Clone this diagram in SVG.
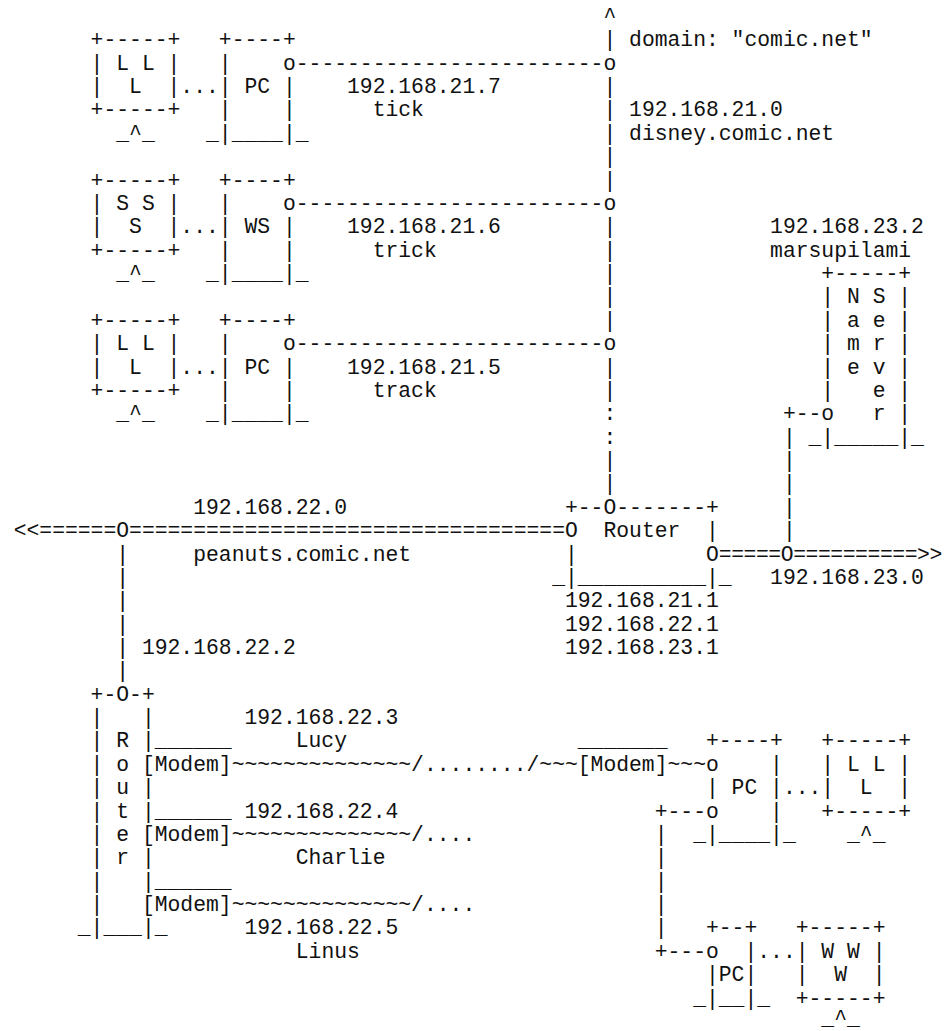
<svg xmlns="http://www.w3.org/2000/svg" width="944" height="1031" viewBox="0 0 944 1031" xml:space="preserve">
<style>
text { font-family: "Liberation Mono", "Courier New", monospace; font-size: 21.36px; fill: #111; white-space: pre; }
</style>
<rect width="944" height="1031" fill="#fff"/>
<g id="connectors">
<text x="603.42" y="23">^</text>
<text x="603.42" y="46.37">|</text>
<text x="603.42" y="93.11">|</text>
<text x="603.42" y="116.48">|</text>
<text x="603.42" y="139.85">|</text>
<text x="603.42" y="163.22">|</text>
<text x="603.42" y="186.59">|</text>
<text x="603.42" y="233.33">|</text>
<text x="603.42" y="256.7">|</text>
<text x="603.42" y="280.07">|</text>
<text x="603.42" y="303.44">|</text>
<text x="603.42" y="326.81">|</text>
<text x="603.42" y="373.55">|</text>
<text x="603.42" y="396.92">|</text>
<text x="603.42" y="420.29">:</text>
<text x="603.42" y="443.66">:</text>
<text x="603.42" y="467.03">|</text>
<text x="603.42" y="490.4">|</text>
<text x="295.74" y="69.74" textLength="320.5">------------------------o</text>
<text x="295.74" y="209.96" textLength="320.5">------------------------o</text>
<text x="295.74" y="350.18" textLength="320.5">------------------------o</text>
<text x="180.36" y="93.11" textLength="38.46">...</text>
<text x="180.36" y="233.33" textLength="38.46">...</text>
<text x="180.36" y="373.55" textLength="38.46">...</text>
<text x="782.9" y="420.29" textLength="38.46">+--</text>
<text x="782.9" y="443.66">|</text>
<text x="782.9" y="467.03">|</text>
<text x="782.9" y="490.4">|</text>
<text x="782.9" y="513.77">|</text>
<text x="782.9" y="537.14">|</text>
<text x="718.8" y="560.51" textLength="223.5">=====O==========&gt;&gt;</text>
<text x="13.7" y="537.14" textLength="551.26">&lt;&lt;======O==================================</text>
<text x="116.26" y="560.51">|</text>
<text x="116.26" y="583.88">|</text>
<text x="116.26" y="607.25">|</text>
<text x="116.26" y="630.62">|</text>
<text x="116.26" y="653.99">|</text>
<text x="116.26" y="677.36">|</text>
<text x="231.64" y="770.84" textLength="346.14">~~~~~~~~~~~~~~/......../~~~</text>
<text x="667.52" y="770.84" textLength="38.46">~~~</text>
<text x="231.64" y="840.95" textLength="243.58">~~~~~~~~~~~~~~/....</text>
<text x="231.64" y="911.06" textLength="243.58">~~~~~~~~~~~~~~/....</text>
<text x="782.9" y="794.21" textLength="38.46">...</text>
<text x="654.7" y="817.58" textLength="51.28">+---</text>
<text x="654.7" y="840.95">|</text>
<text x="654.7" y="864.32">|</text>
<text x="654.7" y="887.69">|</text>
<text x="654.7" y="911.06">|</text>
<text x="654.7" y="934.43">|</text>
<text x="654.7" y="957.8" textLength="51.28">+---</text>
<text x="757.26" y="957.8" textLength="38.46">...</text>
</g>
<g id="host-tick">
<text x="90.62" y="46.37" textLength="89.74">+-----+</text>
<text x="218.82" y="46.37" textLength="76.92">+----+</text>
<text x="90.62" y="69.74" textLength="89.74">| L L |</text>
<text x="218.82" y="69.74">|</text>
<text x="282.92" y="69.74">o</text>
<text x="90.62" y="93.11" textLength="89.74">|  L  |</text>
<text x="218.82" y="93.11" textLength="76.92">| PC |</text>
<text x="90.62" y="116.48" textLength="89.74">+-----+</text>
<text x="218.82" y="116.48" textLength="76.92">|    |</text>
<text x="116.26" y="139.85" textLength="38.46">_^_</text>
<text x="206" y="139.85" textLength="102.56">_|____|_</text>
<text x="347.02" y="93.11" textLength="153.84">192.168.21.7</text>
<text x="372.66" y="116.48" textLength="51.28">tick</text>
</g>
<g id="host-trick">
<text x="90.62" y="186.59" textLength="89.74">+-----+</text>
<text x="218.82" y="186.59" textLength="76.92">+----+</text>
<text x="90.62" y="209.96" textLength="89.74">| S S |</text>
<text x="218.82" y="209.96">|</text>
<text x="282.92" y="209.96">o</text>
<text x="90.62" y="233.33" textLength="89.74">|  S  |</text>
<text x="218.82" y="233.33" textLength="76.92">| WS |</text>
<text x="90.62" y="256.7" textLength="89.74">+-----+</text>
<text x="218.82" y="256.7" textLength="76.92">|    |</text>
<text x="116.26" y="280.07" textLength="38.46">_^_</text>
<text x="206" y="280.07" textLength="102.56">_|____|_</text>
<text x="347.02" y="233.33" textLength="153.84">192.168.21.6</text>
<text x="372.66" y="256.7" textLength="64.1">trick</text>
</g>
<g id="host-track">
<text x="90.62" y="326.81" textLength="89.74">+-----+</text>
<text x="218.82" y="326.81" textLength="76.92">+----+</text>
<text x="90.62" y="350.18" textLength="89.74">| L L |</text>
<text x="218.82" y="350.18">|</text>
<text x="282.92" y="350.18">o</text>
<text x="90.62" y="373.55" textLength="89.74">|  L  |</text>
<text x="218.82" y="373.55" textLength="76.92">| PC |</text>
<text x="90.62" y="396.92" textLength="89.74">+-----+</text>
<text x="218.82" y="396.92" textLength="76.92">|    |</text>
<text x="116.26" y="420.29" textLength="38.46">_^_</text>
<text x="206" y="420.29" textLength="102.56">_|____|_</text>
<text x="347.02" y="373.55" textLength="153.84">192.168.21.5</text>
<text x="372.66" y="396.92" textLength="64.1">track</text>
</g>
<g id="net-disney">
<text x="629.06" y="46.37" textLength="243.58">domain: "comic.net"</text>
<text x="629.06" y="116.48" textLength="153.84">192.168.21.0</text>
<text x="629.06" y="139.85" textLength="205.12">disney.comic.net</text>
</g>
<g id="ns-marsupilami">
<text x="770.08" y="233.33" textLength="153.84">192.168.23.2</text>
<text x="770.08" y="256.7" textLength="141.02">marsupilami</text>
<text x="821.36" y="280.07" textLength="89.74">+-----+</text>
<text x="821.36" y="303.44" textLength="89.74">| N S |</text>
<text x="821.36" y="326.81" textLength="89.74">| a e |</text>
<text x="821.36" y="350.18" textLength="89.74">| m r |</text>
<text x="821.36" y="373.55" textLength="89.74">| e v |</text>
<text x="821.36" y="396.92" textLength="89.74">|   e |</text>
<text x="821.36" y="420.29" textLength="89.74">o   r |</text>
<text x="808.54" y="443.66" textLength="115.38">_|_____|_</text>
</g>
<g id="router-main">
<text x="564.96" y="513.77" textLength="153.84">+--O-------+</text>
<text x="564.96" y="537.14" textLength="153.84">O  Router  |</text>
<text x="564.96" y="560.51">|</text>
<text x="705.98" y="560.51">O</text>
<text x="552.14" y="583.88" textLength="179.48">_|__________|_</text>
<text x="564.96" y="607.25" textLength="153.84">192.168.21.1</text>
<text x="564.96" y="630.62" textLength="153.84">192.168.22.1</text>
<text x="564.96" y="653.99" textLength="153.84">192.168.23.1</text>
</g>
<g id="net-peanuts">
<text x="193.18" y="513.77" textLength="153.84">192.168.22.0</text>
<text x="193.18" y="560.51" textLength="217.94">peanuts.comic.net</text>
</g>
<g id="net-23">
<text x="770.08" y="583.88" textLength="153.84">192.168.23.0</text>
</g>
<g id="router-dialup">
<text x="141.9" y="653.99" textLength="153.84">192.168.22.2</text>
<text x="90.62" y="700.73" textLength="64.1">+-O-+</text>
<text x="90.62" y="724.1" textLength="64.1">|   |</text>
<text x="90.62" y="747.47" textLength="64.1">| R |</text>
<text x="90.62" y="770.84" textLength="38.46">| o</text>
<text x="90.62" y="794.21" textLength="64.1">| u |</text>
<text x="90.62" y="817.58" textLength="64.1">| t |</text>
<text x="90.62" y="840.95" textLength="38.46">| e</text>
<text x="90.62" y="864.32" textLength="64.1">| r |</text>
<text x="90.62" y="887.69" textLength="64.1">|   |</text>
<text x="90.62" y="911.06">|</text>
<text x="77.8" y="934.43" textLength="89.74">_|___|_</text>
</g>
<g id="modem-lucy">
<text x="154.72" y="747.47" textLength="76.92">______</text>
<text x="141.9" y="770.84" textLength="89.74">[Modem]</text>
<text x="244.46" y="724.1" textLength="153.84">192.168.22.3</text>
<text x="295.74" y="747.47" textLength="51.28">Lucy</text>
</g>
<g id="modem-charlie">
<text x="154.72" y="817.58" textLength="76.92">______</text>
<text x="141.9" y="840.95" textLength="89.74">[Modem]</text>
<text x="244.46" y="817.58" textLength="153.84">192.168.22.4</text>
<text x="295.74" y="864.32" textLength="89.74">Charlie</text>
</g>
<g id="modem-linus">
<text x="154.72" y="887.69" textLength="76.92">______</text>
<text x="141.9" y="911.06" textLength="89.74">[Modem]</text>
<text x="244.46" y="934.43" textLength="153.84">192.168.22.5</text>
<text x="295.74" y="957.8" textLength="64.1">Linus</text>
</g>
<g id="modem-remote">
<text x="577.78" y="747.47" textLength="89.74">_______</text>
<text x="577.78" y="770.84" textLength="89.74">[Modem]</text>
</g>
<g id="pc-gateway">
<text x="705.98" y="747.47" textLength="76.92">+----+</text>
<text x="705.98" y="770.84" textLength="76.92">o    |</text>
<text x="705.98" y="794.21" textLength="76.92">| PC |</text>
<text x="705.98" y="817.58" textLength="76.92">o    |</text>
<text x="693.16" y="840.95" textLength="102.56">_|____|_</text>
</g>
<g id="monitor-lll">
<text x="821.36" y="747.47" textLength="89.74">+-----+</text>
<text x="821.36" y="770.84" textLength="89.74">| L L |</text>
<text x="821.36" y="794.21" textLength="89.74">|  L  |</text>
<text x="821.36" y="817.58" textLength="89.74">+-----+</text>
<text x="847" y="840.95" textLength="38.46">_^_</text>
</g>
<g id="pc-small">
<text x="705.98" y="934.43" textLength="51.28">+--+</text>
<text x="705.98" y="957.8" textLength="51.28">o  |</text>
<text x="705.98" y="981.17" textLength="51.28">|PC|</text>
<text x="693.16" y="1004.54" textLength="76.92">_|__|_</text>
</g>
<g id="monitor-www">
<text x="795.72" y="934.43" textLength="89.74">+-----+</text>
<text x="795.72" y="957.8" textLength="89.74">| W W |</text>
<text x="795.72" y="981.17" textLength="89.74">|  W  |</text>
<text x="795.72" y="1004.54" textLength="89.74">+-----+</text>
<text x="821.36" y="1024.5" textLength="38.46">_^_</text>
</g>
</svg>
